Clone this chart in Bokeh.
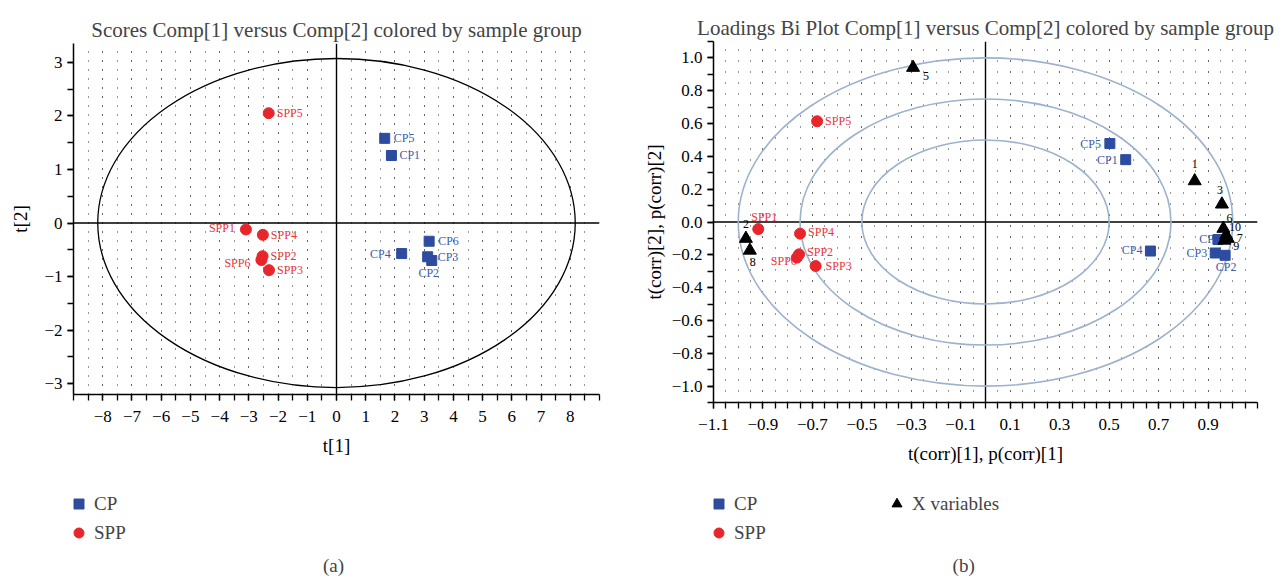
import numpy as np
from bokeh.plotting import figure
from bokeh.models import (ColumnDataSource, Span, FixedTicker, Legend, LegendItem,
                          Label, Range1d, CustomJSTickFormatter)
from bokeh.layouts import row, column
from bokeh.embed import file_html
from bokeh.resources import INLINE
from bokeh.core.properties import value, field

FONT = "Liberation Serif"
BLUE = "#2D4C9F"
RED = "#E8252B"
BLUE_TXT = "#3D5AAB"
RED_TXT = "#E8353A"

# ---------------- data: (a) scores ----------------
cp_names = ["CP1", "CP2", "CP3", "CP4", "CP5", "CP6"]
cp_t1 = [1.88, 3.26, 3.12, 2.23, 1.65, 3.17]
cp_t2 = [1.26, -0.70, -0.63, -0.57, 1.58, -0.34]
spp_names = ["SPP1", "SPP2", "SPP3", "SPP4", "SPP5", "SPP6"]
spp_t1 = [-3.10, -2.53, -2.31, -2.52, -2.32, -2.57]
spp_t2 = [-0.12, -0.62, -0.88, -0.22, 2.05, -0.69]

# ---------------- data: (b) loadings bi plot ----------------
cp_c1 = [0.567, 0.969, 0.929, 0.667, 0.503, 0.940]
cp_c2 = [0.380, -0.203, -0.189, -0.177, 0.478, -0.107]
spp_c1 = [-0.919, -0.754, -0.687, -0.750, -0.681, -0.763]
spp_c2 = [-0.043, -0.197, -0.268, -0.071, 0.614, -0.217]
xv_names = ["1", "2", "3", "5", "6", "7", "8", "9", "10"]
xv_c1 = [0.846, -0.969, 0.956, -0.293, 0.962, 0.980, -0.953, 0.966, 0.973]
xv_c2 = [0.250, -0.101, 0.108, 0.941, -0.040, -0.101, -0.173, -0.112, -0.081]

x_ticks_a = list(range(-8, 9))
y_ticks_a = list(range(-3, 4))
x_ticks_b = [-1.1, -0.9, -0.7, -0.5, -0.3, -0.1, 0.1, 0.3, 0.5, 0.7, 0.9]
y_ticks_b = [-1.0, -0.8, -0.6, -0.4, -0.2, 0.0, 0.2, 0.4, 0.6, 0.8, 1.0]

# label placement (style): align, x offset, y offset in px
lab_a = {
    "CP1": ("left", 8, 0), "CP2": ("center", -3, 12), "CP3": ("left", 10, 0),
    "CP4": ("right", -11, 0), "CP5": ("left", 9, 0), "CP6": ("left", 9, 0),
    "SPP1": ("right", -11, -1), "SPP2": ("left", 8, 0), "SPP3": ("left", 8, 0),
    "SPP4": ("left", 8, 0), "SPP5": ("left", 8, 0), "SPP6": ("right", -11, 3),
}
lab_b = {
    "CP1": ("right", -8, 0), "CP2": ("center", 1, 12), "CP3": ("right", -8, 0),
    "CP4": ("right", -8, -1), "CP5": ("right", -9, 0), "CP6": ("right", 2, -1),
    "SPP1": ("left", -7, -12), "SPP2": ("left", 8, -2), "SPP3": ("left", 10, 0),
    "SPP4": ("left", 8, -2), "SPP5": ("left", 8, 0), "SPP6": ("right", 0, 3),
    "1": ("center", 0, -17), "2": ("center", 0, -15), "3": ("center", -2, -14),
    "5": ("left", 10, 8), "6": ("center", 6, -11), "7": ("center", 12, -1),
    "8": ("center", 3, 12), "9": ("center", 12, 6), "10": ("left", 3, -8),
}


def src(xs, ys, names, lab):
    return ColumnDataSource(dict(
        x=xs, y=ys, name=names,
        align=[lab[n][0] for n in names],
        dx=[lab[n][1] for n in names],
        dy=[lab[n][2] for n in names]))


def labels(p, s, color, size="12px"):
    p.text(x="x", y="y", text="name", source=s, text_align=field("align"),
           x_offset="dx", y_offset="dy", text_baseline="middle",
           text_font=value(FONT), text_font_size=size, text_color=color)


def style(p, dash):
    p.outline_line_color = None
    for ax in (p.xaxis[0], p.yaxis[0]):
        ax.axis_line_color = "black"
        ax.axis_line_width = 1.5
        ax.major_tick_line_color = "black"
        ax.major_tick_line_width = 1.3
        ax.minor_tick_line_color = "black"
        ax.minor_tick_line_width = 1.3
        ax.major_tick_in = 0
        ax.major_tick_out = 6
        ax.minor_tick_in = 0
        ax.minor_tick_out = 6
        ax.major_label_text_font = FONT
        ax.major_label_text_font_size = "17px"
        ax.major_label_text_color = "black"
        ax.axis_label_text_font = FONT
        ax.axis_label_text_font_size = "19px"
        ax.axis_label_text_font_style = "normal"
        ax.axis_label_text_color = "black"
    p.xgrid.grid_line_color = "#333333"
    p.xgrid.grid_line_dash = dash
    p.xgrid.grid_line_width = 1
    p.xgrid.minor_grid_line_color = "#333333"
    p.xgrid.minor_grid_line_dash = dash
    p.xgrid.minor_grid_line_width = 1
    p.ygrid.visible = False
    p.title.text_font = FONT
    p.title.text_font_size = "21px"
    p.title.text_font_style = "normal"
    p.title.align = "center"
    p.title.standoff = 4
    p.add_layout(Span(location=0, dimension="width", line_color="black",
                      line_width=1.4, level="underlay"))
    p.add_layout(Span(location=0, dimension="height", line_color="black",
                      line_width=1.4, level="underlay"))


W = 640
H_MAIN = 478
H_LEG = 98
OFF = 1000.0  # legend panel uses a pixel-like range far from the data


def legend_fig(series, loc, caption, cap_dx, b_left, b_right, fw,
               nrows="auto", label_width=20):
    q = figure(width=W, height=H_LEG, x_range=Range1d(OFF, OFF + fw),
               y_range=Range1d(0, H_LEG),
               output_backend="svg", toolbar_location=None,
               x_axis_location=None, y_axis_location=None,
               min_border_left=b_left, min_border_right=b_right,
               min_border_top=0, min_border_bottom=0)
    q.grid.visible = False
    q.outline_line_color = None
    items = []
    for lab, xs, ys, marker, color in series:
        # same series data; it lies outside this panel's range, so only the key shows
        r = q.scatter(x=xs, y=ys, marker=marker, size=10, color=color)
        items.append(LegendItem(label=lab, renderers=[r]))
    lg = Legend(items=items, location=loc, orientation="vertical", nrows=nrows,
                border_line_color=None, background_fill_alpha=0,
                label_text_font=FONT, label_text_font_size="19px",
                glyph_width=25, glyph_height=25, label_height=25,
                label_width=label_width, spacing=4, padding=0, margin=0,
                label_standoff=3)
    q.add_layout(lg)
    q.add_layout(Label(x=OFF + cap_dx, y=11, text=caption, text_font=FONT,
                       text_font_size="19px", text_align="center",
                       text_baseline="middle"))
    return q


# ---------------- figure (a) ----------------
A_LEFT, A_RIGHT = 73, 41
pa = figure(width=W, height=H_MAIN, x_range=Range1d(-9, 9), y_range=Range1d(-3.2, 3.35),
            output_backend="svg", toolbar_location=None,
            title="Scores Comp[1] versus Comp[2] colored by sample group",
            min_border_left=A_LEFT, min_border_right=A_RIGHT, min_border_top=43,
            min_border_bottom=H_MAIN - 394)
style(pa, "1 8")
pa.xaxis.ticker = FixedTicker(ticks=x_ticks_a, minor_ticks=list(np.arange(-9, 9.01, 0.5)))
pa.yaxis.ticker = FixedTicker(ticks=y_ticks_a, minor_ticks=list(np.arange(-3, 3.01, 0.5)))
fmt_int = CustomJSTickFormatter(code="return Math.round(tick).toString().replace('-', '\u2212')")
pa.xaxis.formatter = fmt_int
pa.yaxis.formatter = fmt_int
pa.xaxis.axis_label = "t[1]"
pa.yaxis.axis_label = "t[2]"
pa.xaxis.major_label_standoff = 10
pa.yaxis.major_label_standoff = 5
pa.xaxis.axis_label_standoff = 10
pa.yaxis.axis_label_standoff = 10

pa.ellipse(x=[0], y=[0], width=[16.34], height=[6.14], fill_color=None,
           line_color="black", line_width=1.3)
s_cp = src(cp_t1, cp_t2, cp_names, lab_a)
s_spp = src(spp_t1, spp_t2, spp_names, lab_a)
labels(pa, s_cp, BLUE_TXT)
labels(pa, s_spp, RED_TXT)
pa.scatter("x", "y", source=s_cp, marker="square", size=10, color=BLUE)
pa.scatter("x", "y", source=s_spp, marker="circle", size=11, color=RED)

la = legend_fig([("CP", cp_t1, cp_t2, "square", BLUE),
                 ("SPP", spp_t1, spp_t2, "circle", RED)],
                (-7, 31), "(a)", 333 - A_LEFT, A_LEFT, A_RIGHT, W - A_LEFT - A_RIGHT)

# ---------------- figure (b) ----------------
B_LEFT, B_RIGHT = 69, 23
pb = figure(width=W, height=H_MAIN, x_range=Range1d(-1.1, 1.1), y_range=Range1d(-1.1, 1.1),
            output_backend="svg", toolbar_location=None,
            title="Loadings Bi Plot Comp[1] versus Comp[2] colored by sample group",
            min_border_left=B_LEFT, min_border_right=B_RIGHT, min_border_top=41,
            min_border_bottom=H_MAIN - 402)
style(pb, "1 10")
pb.xaxis.ticker = FixedTicker(ticks=x_ticks_b,
                              minor_ticks=list(np.round(np.arange(-1.1, 1.1001, 0.05), 3)))
pb.yaxis.ticker = FixedTicker(ticks=y_ticks_b,
                              minor_ticks=list(np.round(np.arange(-1.1, 1.1001, 0.1), 2)))
fmt_dec = CustomJSTickFormatter(code="return tick.toFixed(1).replace('-', '\u2212')")
pb.xaxis.formatter = fmt_dec
pb.yaxis.formatter = fmt_dec
pb.xaxis.axis_label = "t(corr)[1], p(corr)[1]"
pb.yaxis.axis_label = "t(corr)[2], p(corr)[2]"
pb.xaxis.major_label_standoff = 10
pb.yaxis.major_label_standoff = 5
pb.xaxis.axis_label_standoff = 10
pb.yaxis.axis_label_standoff = 4

pb.ellipse(x=[0, 0, 0], y=[0, 0, 0], width=[2.0, 1.5, 1.0], height=[2.0, 1.5, 1.0],
           fill_color=None, line_color="#9DB2CB", line_width=1.6)
s_cp_b = src(cp_c1, cp_c2, cp_names, lab_b)
s_spp_b = src(spp_c1, spp_c2, spp_names, lab_b)
s_xv = src(xv_c1, xv_c2, xv_names, lab_b)
labels(pb, s_cp_b, BLUE_TXT)
labels(pb, s_spp_b, RED_TXT)
labels(pb, s_xv, "black")
pb.scatter("x", "y", source=s_cp_b, marker="square", size=10, color=BLUE)
pb.scatter("x", "y", source=s_spp_b, marker="circle", size=11, color=RED)
pb.scatter("x", "y", source=s_xv, marker="triangle", size=13, color="black")

lb = legend_fig([("CP", cp_c1, cp_c2, "square", BLUE),
                 ("SPP", spp_c1, spp_c2, "circle", RED),
                 ("X variables", xv_c1, xv_c2, "triangle", "black")],
                (-7, 31), "(b)", 961 - 640 - B_LEFT, B_LEFT, B_RIGHT,
                W - B_LEFT - B_RIGHT, nrows=2, label_width=146)

layout = row(column(pa, la, spacing=0), column(pb, lb, spacing=0), spacing=0)
open("out.html", "w").write(file_html(layout, INLINE))
